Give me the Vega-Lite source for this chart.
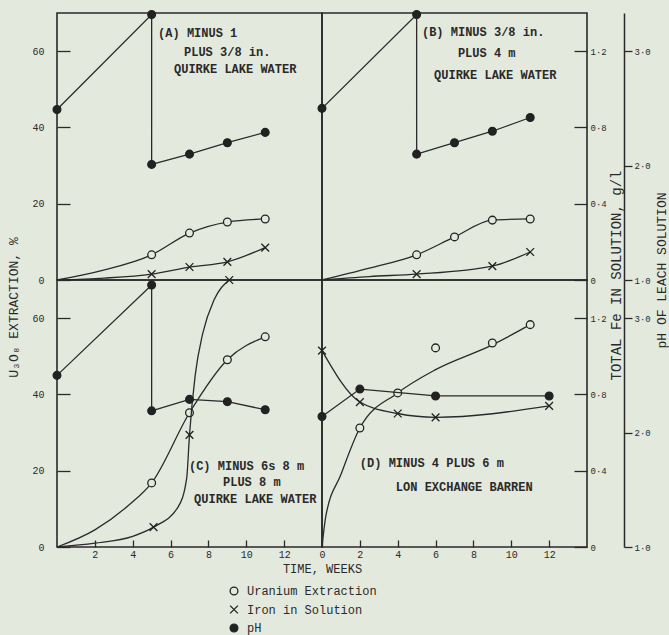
{
"$schema": "https://vega.github.io/schema/vega-lite/v6.json",
"background": "#e4e9de",
"padding": {"left": 6, "top": 7, "right": 0, "bottom": 0},
"datasets": {
"pts": [
{"p":"A","s":"Uranium Extraction","w":0,"v":0,"i":0,"r":"l"},
{"p":"A","s":"Uranium Extraction","w":2.3,"v":2.4,"i":1,"r":"l"},
{"p":"A","s":"Uranium Extraction","w":5,"v":6.6,"i":2,"r":"b"},
{"p":"A","s":"Uranium Extraction","w":7,"v":12.3,"i":3,"r":"b"},
{"p":"A","s":"Uranium Extraction","w":9,"v":15.2,"i":4,"r":"b"},
{"p":"A","s":"Uranium Extraction","w":11,"v":16.0,"i":5,"r":"b"},
{"p":"A","s":"Iron in Solution","w":0,"v":0,"i":0,"r":"l"},
{"p":"A","s":"Iron in Solution","w":2.5,"v":0.01,"i":1,"r":"l"},
{"p":"A","s":"Iron in Solution","w":5,"v":0.031,"i":2,"r":"b"},
{"p":"A","s":"Iron in Solution","w":7,"v":0.068,"i":3,"r":"b"},
{"p":"A","s":"Iron in Solution","w":9,"v":0.095,"i":4,"r":"b"},
{"p":"A","s":"Iron in Solution","w":11,"v":0.17,"i":5,"r":"b"},
{"p":"A","s":"pH","w":0,"v":2.49,"i":0,"r":"b"},
{"p":"A","s":"pH","w":5,"v":3.32,"i":1,"r":"b"},
{"p":"A","s":"pH","w":5,"v":2.01,"i":2,"r":"b"},
{"p":"A","s":"pH","w":7,"v":2.10,"i":3,"r":"b"},
{"p":"A","s":"pH","w":9,"v":2.20,"i":4,"r":"b"},
{"p":"A","s":"pH","w":11,"v":2.29,"i":5,"r":"b"},
{"p":"B","s":"Uranium Extraction","w":0,"v":0,"i":0,"r":"l"},
{"p":"B","s":"Uranium Extraction","w":2.5,"v":3.1,"i":1,"r":"l"},
{"p":"B","s":"Uranium Extraction","w":5,"v":6.6,"i":2,"r":"b"},
{"p":"B","s":"Uranium Extraction","w":7,"v":11.3,"i":3,"r":"b"},
{"p":"B","s":"Uranium Extraction","w":9,"v":15.7,"i":4,"r":"b"},
{"p":"B","s":"Uranium Extraction","w":11,"v":16.0,"i":5,"r":"b"},
{"p":"B","s":"Iron in Solution","w":0,"v":0,"i":0,"r":"l"},
{"p":"B","s":"Iron in Solution","w":2.5,"v":0.018,"i":1,"r":"l"},
{"p":"B","s":"Iron in Solution","w":5,"v":0.031,"i":2,"r":"b"},
{"p":"B","s":"Iron in Solution","w":9,"v":0.073,"i":3,"r":"b"},
{"p":"B","s":"Iron in Solution","w":11,"v":0.147,"i":4,"r":"b"},
{"p":"B","s":"pH","w":0,"v":2.50,"i":0,"r":"b"},
{"p":"B","s":"pH","w":5,"v":3.32,"i":1,"r":"b"},
{"p":"B","s":"pH","w":5,"v":2.10,"i":2,"r":"b"},
{"p":"B","s":"pH","w":7,"v":2.20,"i":3,"r":"b"},
{"p":"B","s":"pH","w":9,"v":2.30,"i":4,"r":"b"},
{"p":"B","s":"pH","w":11,"v":2.42,"i":5,"r":"b"},
{"p":"C","s":"Uranium Extraction","w":0,"v":0,"i":0,"r":"l"},
{"p":"C","s":"Uranium Extraction","w":2,"v":4.5,"i":1,"r":"l"},
{"p":"C","s":"Uranium Extraction","w":3.8,"v":11,"i":2,"r":"l"},
{"p":"C","s":"Uranium Extraction","w":5,"v":16.8,"i":3,"r":"b"},
{"p":"C","s":"Uranium Extraction","w":7,"v":35.2,"i":4,"r":"b"},
{"p":"C","s":"Uranium Extraction","w":9,"v":49.1,"i":5,"r":"b"},
{"p":"C","s":"Uranium Extraction","w":11,"v":55.1,"i":6,"r":"b"},
{"p":"C","s":"Iron in Solution","w":0,"v":0,"i":0,"r":"l"},
{"p":"C","s":"Iron in Solution","w":2,"v":0.02,"i":1,"r":"l"},
{"p":"C","s":"Iron in Solution","w":4,"v":0.056,"i":2,"r":"l"},
{"p":"C","s":"Iron in Solution","w":5.1,"v":0.104,"i":3,"r":"b"},
{"p":"C","s":"Iron in Solution","w":6.4,"v":0.21,"i":4,"r":"l"},
{"p":"C","s":"Iron in Solution","w":6.85,"v":0.36,"i":5,"r":"l"},
{"p":"C","s":"Iron in Solution","w":7,"v":0.588,"i":6,"r":"b"},
{"p":"C","s":"Iron in Solution","w":7.3,"v":0.9,"i":7,"r":"l"},
{"p":"C","s":"Iron in Solution","w":7.7,"v":1.12,"i":8,"r":"l"},
{"p":"C","s":"Iron in Solution","w":8.3,"v":1.296,"i":9,"r":"l"},
{"p":"C","s":"Iron in Solution","w":9.1,"v":1.4,"i":10,"r":"b"},
{"p":"C","s":"pH","w":0,"v":2.50,"i":0,"r":"b"},
{"p":"C","s":"pH","w":5,"v":3.29,"i":1,"r":"b"},
{"p":"C","s":"pH","w":5,"v":2.19,"i":2,"r":"b"},
{"p":"C","s":"pH","w":7,"v":2.29,"i":3,"r":"b"},
{"p":"C","s":"pH","w":9,"v":2.27,"i":4,"r":"b"},
{"p":"C","s":"pH","w":11,"v":2.20,"i":5,"r":"b"},
{"p":"D","s":"Uranium Extraction","w":0,"v":0,"i":0,"r":"l"},
{"p":"D","s":"Uranium Extraction","w":0.2,"v":8,"i":1,"r":"l"},
{"p":"D","s":"Uranium Extraction","w":1,"v":19,"i":2,"r":"l"},
{"p":"D","s":"Uranium Extraction","w":2,"v":31.2,"i":3,"r":"b"},
{"p":"D","s":"Uranium Extraction","w":4,"v":40.4,"i":4,"r":"b"},
{"p":"D","s":"Uranium Extraction","w":6,"v":46.5,"i":5,"r":"l"},
{"p":"D","s":"Uranium Extraction","w":9,"v":53,"i":6,"r":"l"},
{"p":"D","s":"Uranium Extraction","w":11,"v":58.3,"i":7,"r":"b"},
{"p":"D","s":"Uranium Extraction","w":6,"v":52.2,"i":8,"r":"m"},
{"p":"D","s":"Uranium Extraction","w":9,"v":53.5,"i":9,"r":"m"},
{"p":"D","s":"Iron in Solution","w":0,"v":1.03,"i":0,"r":"b"},
{"p":"D","s":"Iron in Solution","w":2,"v":0.76,"i":1,"r":"b"},
{"p":"D","s":"Iron in Solution","w":4,"v":0.70,"i":2,"r":"b"},
{"p":"D","s":"Iron in Solution","w":6,"v":0.68,"i":3,"r":"b"},
{"p":"D","s":"Iron in Solution","w":12,"v":0.74,"i":4,"r":"b"},
{"p":"D","s":"pH","w":0,"v":2.14,"i":0,"r":"b"},
{"p":"D","s":"pH","w":2,"v":2.38,"i":1,"r":"b"},
{"p":"D","s":"pH","w":6,"v":2.32,"i":2,"r":"b"},
{"p":"D","s":"pH","w":12,"v":2.32,"i":3,"r":"b"}
],
"notes": [
{"p":"A","t":"(A)  MINUS 1","w":5.34,"v":64.8},
{"p":"A","t":"PLUS 3/8 in.","w":6.71,"v":59.8},
{"p":"A","t":"QUIRKE LAKE WATER","w":6.18,"v":55.4},
{"p":"B","t":"(B)  MINUS 3/8 in.","w":5.28,"v":65.1},
{"p":"B","t":"PLUS 4 m","w":7.18,"v":59.6},
{"p":"B","t":"QUIRKE LAKE WATER","w":5.92,"v":53.8},
{"p":"C","t":"(C)  MINUS 6s 8 m","w":6.97,"v":21.3},
{"p":"C","t":"PLUS 8 m","w":8.77,"v":17.1},
{"p":"C","t":"QUIRKE LAKE WATER","w":7.24,"v":12.6},
{"p":"D","t":"(D)  MINUS 4 PLUS 6 m","w":2.0,"v":22.0},
{"p":"D","t":"LON EXCHANGE BARREN","w":3.9,"v":15.7}
]
},
"data": {"name": "pts"},
"spacing": 0,
"bounds": "flush",
"columns": 2,
"concat": [
{"width":265,"height":267,
"encoding":{"x":{"field":"w","type":"quantitative","scale":{"domain":[0,14],"nice":false},"axis":null}},
"layer":[
{"transform":[{"filter":"datum.p=='A' && datum.s=='Uranium Extraction'"}],
"encoding":{"y":{"field":"v","type":"quantitative","scale":{"domain":[0,70],"nice":false},"axis":{"orient":"left","values":[0,20,40,60],"offset":-13,"tickSize":13,"labelPadding":13,"domain":false,"title":"U₃O₈  EXTRACTION,  %","titleFontSize":13,"titleX":-57,"titleY":294,"titleAngle":-90,"titleAlign":"center","titleBaseline":"middle"}}},
"layer":[
{"transform":[{"filter":"datum.r!='m'"}],"mark":{"type":"line","interpolate":"monotone","stroke":"#2a2a2a","strokeWidth":1.3},"encoding":{"order":{"field":"i","type":"quantitative"}}},
{"transform":[{"filter":"datum.r!='l'"}],"mark":{"type":"point","filled":true,"size":60,"strokeWidth":1.3,"opacity":1},"encoding":{"shape":{"field":"s","type":"nominal","scale":{"domain":["Uranium Extraction","Iron in Solution","pH"],"range":["circle","M-1,-1L1,1M-1,1L1,-1","circle"]},"legend":{"title":null}},"fill":{"field":"s","type":"nominal","scale":{"domain":["Uranium Extraction","Iron in Solution","pH"],"range":["#e4e9de","transparent","#222222"]},"legend":{"title":null}},"stroke":{"field":"s","type":"nominal","scale":{"domain":["Uranium Extraction","Iron in Solution","pH"],"range":["#222222","#222222","#222222"]},"legend":{"title":null}}}},
{"data":{"name":"notes"},"transform":[{"filter":"datum.p=='A'"}],"mark":{"type":"text","align":"left","baseline":"middle","font":"Liberation Mono","fontSize":12,"fontWeight":"bold","fill":"#2a2a2a"},"encoding":{"text":{"field":"t"}}}
]},
{"transform":[{"filter":"datum.p=='A' && datum.s=='Iron in Solution'"}],
"encoding":{"y":{"field":"v","type":"quantitative","scale":{"domain":[0,1.4],"nice":false},"axis":null}},
"layer":[
{"transform":[{"filter":"datum.r!='m'"}],"mark":{"type":"line","interpolate":"monotone","stroke":"#2a2a2a","strokeWidth":1.3},"encoding":{"order":{"field":"i","type":"quantitative"}}},
{"transform":[{"filter":"datum.r!='l'"}],"mark":{"type":"point","filled":true,"size":60,"strokeWidth":1.3,"opacity":1},"encoding":{"shape":{"field":"s","type":"nominal","scale":{"domain":["Uranium Extraction","Iron in Solution","pH"],"range":["circle","M-1,-1L1,1M-1,1L1,-1","circle"]},"legend":{"title":null}},"fill":{"field":"s","type":"nominal","scale":{"domain":["Uranium Extraction","Iron in Solution","pH"],"range":["#e4e9de","transparent","#222222"]},"legend":{"title":null}},"stroke":{"field":"s","type":"nominal","scale":{"domain":["Uranium Extraction","Iron in Solution","pH"],"range":["#222222","#222222","#222222"]},"legend":{"title":null}}}}
]},
{"transform":[{"filter":"datum.p=='A' && datum.s=='pH'"}],
"encoding":{"y":{"field":"v","type":"quantitative","scale":{"domain":[1,3.3333],"nice":false,"zero":false},"axis":null}},
"layer":[
{"mark":{"type":"line","interpolate":"linear","stroke":"#2a2a2a","strokeWidth":1.3},"encoding":{"order":{"field":"i","type":"quantitative"}}},
{"mark":{"type":"point","filled":true,"size":60,"strokeWidth":1.3,"opacity":1},"encoding":{"shape":{"field":"s","type":"nominal","scale":{"domain":["Uranium Extraction","Iron in Solution","pH"],"range":["circle","M-1,-1L1,1M-1,1L1,-1","circle"]},"legend":{"title":null}},"fill":{"field":"s","type":"nominal","scale":{"domain":["Uranium Extraction","Iron in Solution","pH"],"range":["#e4e9de","transparent","#222222"]},"legend":{"title":null}},"stroke":{"field":"s","type":"nominal","scale":{"domain":["Uranium Extraction","Iron in Solution","pH"],"range":["#222222","#222222","#222222"]},"legend":{"title":null}}}}
]}
],
"resolve":{"scale":{"y":"independent"}}},
{"width":265,"height":267,
"encoding":{"x":{"field":"w","type":"quantitative","scale":{"domain":[0,14],"nice":false},"axis":null}},
"layer":[
{"transform":[{"filter":"datum.p=='B' && datum.s=='Uranium Extraction'"}],
"encoding":{"y":{"field":"v","type":"quantitative","scale":{"domain":[0,70],"nice":false},"axis":null}},
"layer":[
{"transform":[{"filter":"datum.r!='m'"}],"mark":{"type":"line","interpolate":"monotone","stroke":"#2a2a2a","strokeWidth":1.3},"encoding":{"order":{"field":"i","type":"quantitative"}}},
{"transform":[{"filter":"datum.r!='l'"}],"mark":{"type":"point","filled":true,"size":60,"strokeWidth":1.3,"opacity":1},"encoding":{"shape":{"field":"s","type":"nominal","scale":{"domain":["Uranium Extraction","Iron in Solution","pH"],"range":["circle","M-1,-1L1,1M-1,1L1,-1","circle"]},"legend":{"title":null}},"fill":{"field":"s","type":"nominal","scale":{"domain":["Uranium Extraction","Iron in Solution","pH"],"range":["#e4e9de","transparent","#222222"]},"legend":{"title":null}},"stroke":{"field":"s","type":"nominal","scale":{"domain":["Uranium Extraction","Iron in Solution","pH"],"range":["#222222","#222222","#222222"]},"legend":{"title":null}}}},
{"data":{"name":"notes"},"transform":[{"filter":"datum.p=='B'"}],"mark":{"type":"text","align":"left","baseline":"middle","font":"Liberation Mono","fontSize":12,"fontWeight":"bold","fill":"#2a2a2a"},"encoding":{"text":{"field":"t"}}}
]},
{"transform":[{"filter":"datum.p=='B' && datum.s=='Iron in Solution'"}],
"encoding":{"y":{"field":"v","type":"quantitative","scale":{"domain":[0,1.4],"nice":false},"axis":{"orient":"right","values":[0,0.4,0.8,1.2],"offset":-13,"tickSize":13,"labelPadding":3,"labelFontSize":9,"domain":false,"labelExpr":"datum.value==0?'0':replace(format(datum.value,'.1f'),'.','·')","title":"TOTAL   Fe   IN   SOLUTION,  g/l","titleFontSize":14,"titleX":42,"titleY":262,"titleAngle":-90,"titleAlign":"center","titleBaseline":"middle"}}},
"layer":[
{"transform":[{"filter":"datum.r!='m'"}],"mark":{"type":"line","interpolate":"monotone","stroke":"#2a2a2a","strokeWidth":1.3},"encoding":{"order":{"field":"i","type":"quantitative"}}},
{"transform":[{"filter":"datum.r!='l'"}],"mark":{"type":"point","filled":true,"size":60,"strokeWidth":1.3,"opacity":1},"encoding":{"shape":{"field":"s","type":"nominal","scale":{"domain":["Uranium Extraction","Iron in Solution","pH"],"range":["circle","M-1,-1L1,1M-1,1L1,-1","circle"]},"legend":{"title":null}},"fill":{"field":"s","type":"nominal","scale":{"domain":["Uranium Extraction","Iron in Solution","pH"],"range":["#e4e9de","transparent","#222222"]},"legend":{"title":null}},"stroke":{"field":"s","type":"nominal","scale":{"domain":["Uranium Extraction","Iron in Solution","pH"],"range":["#222222","#222222","#222222"]},"legend":{"title":null}}}}
]},
{"transform":[{"filter":"datum.p=='B' && datum.s=='pH'"}],
"encoding":{"y":{"field":"v","type":"quantitative","scale":{"domain":[1,3.3333],"nice":false,"zero":false},"axis":{"orient":"right","values":[1,2,3],"offset":37,"tickSize":8,"labelPadding":2,"labelFontSize":9,"domain":true,"domainColor":"#2a2a2a","domainWidth":1.5,"labelExpr":"replace(format(datum.value,'.1f'),'.','·')","title":"pH  OF  LEACH  SOLUTION","titleFontSize":13,"titleX":37,"titleY":257,"titleAngle":-90,"titleAlign":"center","titleBaseline":"middle"}}},
"layer":[
{"mark":{"type":"line","interpolate":"linear","stroke":"#2a2a2a","strokeWidth":1.3},"encoding":{"order":{"field":"i","type":"quantitative"}}},
{"mark":{"type":"point","filled":true,"size":60,"strokeWidth":1.3,"opacity":1},"encoding":{"shape":{"field":"s","type":"nominal","scale":{"domain":["Uranium Extraction","Iron in Solution","pH"],"range":["circle","M-1,-1L1,1M-1,1L1,-1","circle"]},"legend":{"title":null}},"fill":{"field":"s","type":"nominal","scale":{"domain":["Uranium Extraction","Iron in Solution","pH"],"range":["#e4e9de","transparent","#222222"]},"legend":{"title":null}},"stroke":{"field":"s","type":"nominal","scale":{"domain":["Uranium Extraction","Iron in Solution","pH"],"range":["#222222","#222222","#222222"]},"legend":{"title":null}}}}
]}
],
"resolve":{"scale":{"y":"independent"}}},
{"width":265,"height":267,
"encoding":{"x":{"field":"w","type":"quantitative","scale":{"domain":[0,14],"nice":false},"axis":{"orient":"bottom","values":[2,4,6,8,10,12],"offset":-7,"tickSize":7,"labelPadding":2,"domain":false,"title":"TIME,  WEEKS","titleX":265,"titleY":28,"titleAlign":"center","titleBaseline":"middle"}}},
"layer":[
{"transform":[{"filter":"datum.p=='C' && datum.s=='Uranium Extraction'"}],
"encoding":{"y":{"field":"v","type":"quantitative","scale":{"domain":[0,70],"nice":false},"axis":{"orient":"left","values":[0,20,40,60],"offset":-13,"tickSize":13,"labelPadding":13,"domain":false,"title":null}}},
"layer":[
{"transform":[{"filter":"datum.r!='m'"}],"mark":{"type":"line","interpolate":"monotone","stroke":"#2a2a2a","strokeWidth":1.3},"encoding":{"order":{"field":"i","type":"quantitative"}}},
{"transform":[{"filter":"datum.r!='l'"}],"mark":{"type":"point","filled":true,"size":60,"strokeWidth":1.3,"opacity":1},"encoding":{"shape":{"field":"s","type":"nominal","scale":{"domain":["Uranium Extraction","Iron in Solution","pH"],"range":["circle","M-1,-1L1,1M-1,1L1,-1","circle"]},"legend":{"title":null}},"fill":{"field":"s","type":"nominal","scale":{"domain":["Uranium Extraction","Iron in Solution","pH"],"range":["#e4e9de","transparent","#222222"]},"legend":{"title":null}},"stroke":{"field":"s","type":"nominal","scale":{"domain":["Uranium Extraction","Iron in Solution","pH"],"range":["#222222","#222222","#222222"]},"legend":{"title":null}}}},
{"data":{"name":"notes"},"transform":[{"filter":"datum.p=='C'"}],"mark":{"type":"text","align":"left","baseline":"middle","font":"Liberation Mono","fontSize":12,"fontWeight":"bold","fill":"#2a2a2a"},"encoding":{"text":{"field":"t"}}}
]},
{"transform":[{"filter":"datum.p=='C' && datum.s=='Iron in Solution'"}],
"encoding":{"y":{"field":"v","type":"quantitative","scale":{"domain":[0,1.4],"nice":false},"axis":null}},
"layer":[
{"transform":[{"filter":"datum.r!='m'"}],"mark":{"type":"line","interpolate":"monotone","stroke":"#2a2a2a","strokeWidth":1.3},"encoding":{"order":{"field":"i","type":"quantitative"}}},
{"transform":[{"filter":"datum.r!='l'"}],"mark":{"type":"point","filled":true,"size":60,"strokeWidth":1.3,"opacity":1},"encoding":{"shape":{"field":"s","type":"nominal","scale":{"domain":["Uranium Extraction","Iron in Solution","pH"],"range":["circle","M-1,-1L1,1M-1,1L1,-1","circle"]},"legend":{"title":null}},"fill":{"field":"s","type":"nominal","scale":{"domain":["Uranium Extraction","Iron in Solution","pH"],"range":["#e4e9de","transparent","#222222"]},"legend":{"title":null}},"stroke":{"field":"s","type":"nominal","scale":{"domain":["Uranium Extraction","Iron in Solution","pH"],"range":["#222222","#222222","#222222"]},"legend":{"title":null}}}}
]},
{"transform":[{"filter":"datum.p=='C' && datum.s=='pH'"}],
"encoding":{"y":{"field":"v","type":"quantitative","scale":{"domain":[1,3.3333],"nice":false,"zero":false},"axis":null}},
"layer":[
{"mark":{"type":"line","interpolate":"linear","stroke":"#2a2a2a","strokeWidth":1.3},"encoding":{"order":{"field":"i","type":"quantitative"}}},
{"mark":{"type":"point","filled":true,"size":60,"strokeWidth":1.3,"opacity":1},"encoding":{"shape":{"field":"s","type":"nominal","scale":{"domain":["Uranium Extraction","Iron in Solution","pH"],"range":["circle","M-1,-1L1,1M-1,1L1,-1","circle"]},"legend":{"title":null}},"fill":{"field":"s","type":"nominal","scale":{"domain":["Uranium Extraction","Iron in Solution","pH"],"range":["#e4e9de","transparent","#222222"]},"legend":{"title":null}},"stroke":{"field":"s","type":"nominal","scale":{"domain":["Uranium Extraction","Iron in Solution","pH"],"range":["#222222","#222222","#222222"]},"legend":{"title":null}}}}
]}
],
"resolve":{"scale":{"y":"independent"}}},
{"width":265,"height":267,
"encoding":{"x":{"field":"w","type":"quantitative","scale":{"domain":[0,14],"nice":false},"axis":{"orient":"bottom","values":[0,2,4,6,8,10,12],"offset":-7,"tickSize":7,"labelPadding":2,"domain":false,"title":null}}},
"layer":[
{"transform":[{"filter":"datum.p=='D' && datum.s=='Uranium Extraction'"}],
"encoding":{"y":{"field":"v","type":"quantitative","scale":{"domain":[0,70],"nice":false},"axis":null}},
"layer":[
{"transform":[{"filter":"datum.r!='m'"}],"mark":{"type":"line","interpolate":"monotone","stroke":"#2a2a2a","strokeWidth":1.3},"encoding":{"order":{"field":"i","type":"quantitative"}}},
{"transform":[{"filter":"datum.r!='l'"}],"mark":{"type":"point","filled":true,"size":60,"strokeWidth":1.3,"opacity":1},"encoding":{"shape":{"field":"s","type":"nominal","scale":{"domain":["Uranium Extraction","Iron in Solution","pH"],"range":["circle","M-1,-1L1,1M-1,1L1,-1","circle"]},"legend":{"title":null}},"fill":{"field":"s","type":"nominal","scale":{"domain":["Uranium Extraction","Iron in Solution","pH"],"range":["#e4e9de","transparent","#222222"]},"legend":{"title":null}},"stroke":{"field":"s","type":"nominal","scale":{"domain":["Uranium Extraction","Iron in Solution","pH"],"range":["#222222","#222222","#222222"]},"legend":{"title":null}}}},
{"data":{"name":"notes"},"transform":[{"filter":"datum.p=='D'"}],"mark":{"type":"text","align":"left","baseline":"middle","font":"Liberation Mono","fontSize":12,"fontWeight":"bold","fill":"#2a2a2a"},"encoding":{"text":{"field":"t"}}}
]},
{"transform":[{"filter":"datum.p=='D' && datum.s=='Iron in Solution'"}],
"encoding":{"y":{"field":"v","type":"quantitative","scale":{"domain":[0,1.4],"nice":false},"axis":{"orient":"right","values":[0,0.4,0.8,1.2],"offset":-13,"tickSize":13,"labelPadding":3,"labelFontSize":9,"domain":false,"labelExpr":"datum.value==0?'0':replace(format(datum.value,'.1f'),'.','·')","title":null}}},
"layer":[
{"transform":[{"filter":"datum.r!='m'"}],"mark":{"type":"line","interpolate":"monotone","stroke":"#2a2a2a","strokeWidth":1.3},"encoding":{"order":{"field":"i","type":"quantitative"}}},
{"transform":[{"filter":"datum.r!='l'"}],"mark":{"type":"point","filled":true,"size":60,"strokeWidth":1.3,"opacity":1},"encoding":{"shape":{"field":"s","type":"nominal","scale":{"domain":["Uranium Extraction","Iron in Solution","pH"],"range":["circle","M-1,-1L1,1M-1,1L1,-1","circle"]},"legend":{"title":null}},"fill":{"field":"s","type":"nominal","scale":{"domain":["Uranium Extraction","Iron in Solution","pH"],"range":["#e4e9de","transparent","#222222"]},"legend":{"title":null}},"stroke":{"field":"s","type":"nominal","scale":{"domain":["Uranium Extraction","Iron in Solution","pH"],"range":["#222222","#222222","#222222"]},"legend":{"title":null}}}}
]},
{"transform":[{"filter":"datum.p=='D' && datum.s=='pH'"}],
"encoding":{"y":{"field":"v","type":"quantitative","scale":{"domain":[1,3.3333],"nice":false,"zero":false},"axis":{"orient":"right","values":[1,2,3],"offset":37,"tickSize":8,"labelPadding":2,"labelFontSize":9,"domain":true,"domainColor":"#2a2a2a","domainWidth":1.5,"labelExpr":"replace(format(datum.value,'.1f'),'.','·')","title":null}}},
"layer":[
{"mark":{"type":"line","interpolate":"linear","stroke":"#2a2a2a","strokeWidth":1.3},"encoding":{"order":{"field":"i","type":"quantitative"}}},
{"mark":{"type":"point","filled":true,"size":60,"strokeWidth":1.3,"opacity":1},"encoding":{"shape":{"field":"s","type":"nominal","scale":{"domain":["Uranium Extraction","Iron in Solution","pH"],"range":["circle","M-1,-1L1,1M-1,1L1,-1","circle"]},"legend":{"title":null}},"fill":{"field":"s","type":"nominal","scale":{"domain":["Uranium Extraction","Iron in Solution","pH"],"range":["#e4e9de","transparent","#222222"]},"legend":{"title":null}},"stroke":{"field":"s","type":"nominal","scale":{"domain":["Uranium Extraction","Iron in Solution","pH"],"range":["#222222","#222222","#222222"]},"legend":{"title":null}}}}
]}
],
"resolve":{"scale":{"y":"independent"}}}
],
"config": {
"font": "Liberation Mono",
"view": {"stroke": "#2a2a2a", "strokeWidth": 1.6},
"axis": {"labelFont": "Liberation Mono", "labelFontSize": 10, "labelColor": "#2a2a2a", "tickColor": "#2a2a2a", "tickWidth": 1.3, "titleFont": "Liberation Mono", "titleFontSize": 12, "titleFontWeight": "normal", "titleColor": "#2a2a2a", "grid": false, "labelOverlap": false, "labelFlush": false},
"legend": {"orient": "none", "legendX": 171, "legendY": 572, "padding": 0, "labelFont": "Liberation Mono", "labelFontSize": 12, "labelColor": "#2a2a2a", "symbolSize": 60, "symbolStrokeWidth": 1.3, "rowPadding": 4.5, "labelOffset": 7, "labelLimit": 300}
}
}
